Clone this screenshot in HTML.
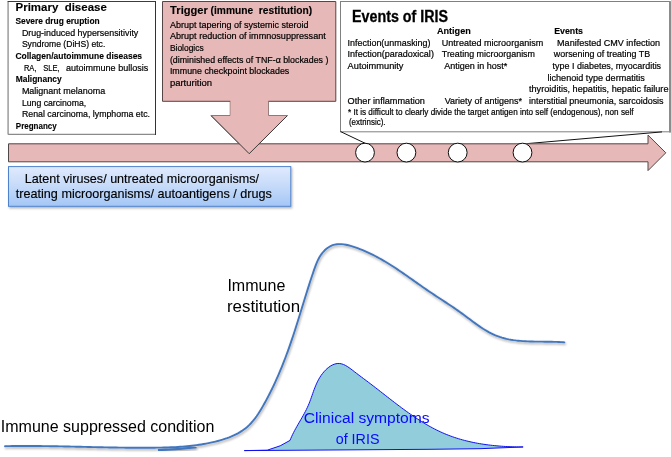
<!DOCTYPE html>
<html><head><meta charset="utf-8">
<style>
html,body{margin:0;padding:0;background:#fff;width:671px;height:457px;overflow:hidden}
svg{display:block;will-change:transform}
text{font-family:"Liberation Sans",sans-serif;fill:#000}
.b{font-weight:bold}
.sm text{stroke:#000;stroke-width:0.2px}
.sm text.b{stroke-width:0.12px}
</style></head><body>
<svg width="671" height="457" viewBox="0 0 671 457">
<defs>
<linearGradient id="bg" x1="0" y1="0" x2="0" y2="1">
<stop offset="0" stop-color="#e0eafd"/>
<stop offset="0.5" stop-color="#c5daf9"/>
<stop offset="1" stop-color="#a4c6f6"/>
</linearGradient>
<filter id="sh" x="-5%" y="-5%" width="110%" height="120%">
<feDropShadow dx="1" dy="1.5" stdDeviation="0.9" flood-color="#000" flood-opacity="0.3"/>
</filter>
<filter id="shc" x="-5%" y="-5%" width="110%" height="110%">
<feDropShadow dx="0.8" dy="1.6" stdDeviation="0.9" flood-color="#000" flood-opacity="0.35"/>
</filter>
</defs>

<!-- Primary disease box -->
<rect x="8" y="1.5" width="147.5" height="133" fill="#fff"/>
<line x1="8.1" y1="1.5" x2="8.1" y2="134.5" stroke="#9c9c9c" stroke-width="1.5"/>
<line x1="8.1" y1="134.4" x2="156" y2="134.4" stroke="#8a8a8a" stroke-width="1.3"/>
<line x1="7.6" y1="1.5" x2="156" y2="1.5" stroke="#3c3c3c" stroke-width="1"/>
<line x1="155.5" y1="1" x2="155.5" y2="135" stroke="#333" stroke-width="1"/>
<g font-size="9.1" class="sm">
<text class="b" x="15.5" y="11.2" font-size="11.6" xml:space="preserve" textLength="91.3" lengthAdjust="spacingAndGlyphs">Primary  disease</text>
<text class="b" x="15.4" y="23.9" textLength="84.3" lengthAdjust="spacingAndGlyphs">Severe drug eruption</text>
<text x="21.9" y="35.8" textLength="116.4" lengthAdjust="spacingAndGlyphs">Drug-induced hypersensitivity</text>
<text x="21.9" y="47.4" textLength="83.4" lengthAdjust="spacingAndGlyphs">Syndrome (DiHS) etc.</text>
<text class="b" x="15.4" y="58.6" textLength="126.7" lengthAdjust="spacingAndGlyphs">Collagen/autoimmune diseases</text>
<text x="23.9" y="70.7" textLength="12.6" lengthAdjust="spacingAndGlyphs">RA,</text><text x="43.3" y="70.7" textLength="16.4" lengthAdjust="spacingAndGlyphs">SLE,</text><text x="65.9" y="70.7" textLength="82.4" lengthAdjust="spacingAndGlyphs">autoimmune bullosis</text>
<text class="b" x="15.8" y="82.4" textLength="45.9" lengthAdjust="spacingAndGlyphs">Malignancy</text>
<text x="21.9" y="93.5" textLength="83.4" lengthAdjust="spacingAndGlyphs">Malignant melanoma</text>
<text x="21.9" y="105.6" textLength="64.3" lengthAdjust="spacingAndGlyphs">Lung carcinoma,</text>
<text x="21.9" y="117.1" textLength="128.1" lengthAdjust="spacingAndGlyphs">Renal carcinoma, lymphoma etc.</text>
<text class="b" x="15.8" y="128.8" textLength="40.9" lengthAdjust="spacingAndGlyphs">Pregnancy</text>
</g>

<!-- Trigger box with down arrow -->
<polygon points="162.5,1.5 335.8,1.5 335.8,101.3 268.3,101.3 268.3,115.7 287.3,115.7 249.2,153.7 211.2,115.7 230.3,115.7 230.3,101.3 162.5,101.3" fill="#e6b8b7" stroke="#574444" stroke-width="1"/>

<!-- Callout box -->
<rect x="340.5" y="1.5" width="329.6" height="130.3" fill="#fff" stroke="#808080" stroke-width="1"/>
<line x1="340.6" y1="131.6" x2="365.6" y2="143.5" stroke="#111" stroke-width="1"/>
<line x1="527.2" y1="143.6" x2="662" y2="131.9" stroke="#111" stroke-width="1"/>
<line x1="670" y1="1.5" x2="670" y2="132.5" stroke="#8c8c8c" stroke-width="2"/>

<!-- Main arrow -->
<polygon points="8.5,143.8 648,143.8 648,135.1 665.8,152.8 648,170.6 648,161.8 8.5,161.8" fill="#e6b8b7" stroke="#504848" stroke-width="1"/>
<!-- redraw down arrow tip over main arrow -->
<polygon points="230.3,101.3 268.3,101.3 268.3,115.7 287.3,115.7 249.2,153.7 211.2,115.7 230.3,115.7" fill="#e6b8b7" stroke="none"/>
<polyline points="287.3,115.7 249.2,153.7 211.2,115.7" fill="none" stroke="#3a3a3a" stroke-width="1"/>

<!-- Circles -->
<circle cx="365" cy="152.6" r="9.4" fill="#fff" stroke="#111" stroke-width="1"/>
<circle cx="406.4" cy="152.6" r="9.4" fill="#fff" stroke="#111" stroke-width="1"/>
<circle cx="457.7" cy="152.6" r="9.4" fill="#fff" stroke="#111" stroke-width="1"/>
<circle cx="522.5" cy="152.6" r="9.4" fill="#fff" stroke="#111" stroke-width="1"/>

<!-- Trigger text -->
<g font-size="9.1" class="sm">
<text class="b" x="170.1" y="14.2" font-size="11.8" textLength="37.8" lengthAdjust="spacingAndGlyphs">Trigger</text>
<text class="b" x="210.6" y="14.3" font-size="10.4" textLength="101.6" lengthAdjust="spacingAndGlyphs" xml:space="preserve">(immune  restitution)</text>
<text x="169.9" y="27.5" textLength="138.7" lengthAdjust="spacingAndGlyphs">Abrupt tapering of systemic steroid</text>
<text x="169.9" y="38.9" textLength="155.9" lengthAdjust="spacingAndGlyphs">Abrupt reduction of immnosuppressant</text>
<text x="169.9" y="50.9" textLength="33.8" lengthAdjust="spacingAndGlyphs">Biologics</text>
<text x="169.9" y="62.8" textLength="158.5" lengthAdjust="spacingAndGlyphs">(diminished effects of TNF-α blockades )</text>
<text x="169.9" y="74.3" textLength="119.4" lengthAdjust="spacingAndGlyphs">Immune checkpoint blockades</text>
<text x="169.9" y="85.5" textLength="42.2" lengthAdjust="spacingAndGlyphs">parturition</text>
</g>

<!-- Events text -->
<g font-size="9.1" class="sm">
<text class="b" x="352" y="21.6" font-size="15.8" style="stroke-width:0.3px" textLength="96.1" lengthAdjust="spacingAndGlyphs">Events of IRIS</text>
<text class="b" x="436.9" y="33.7" textLength="33.9" lengthAdjust="spacingAndGlyphs">Antigen</text>
<text class="b" x="554.2" y="33.5" textLength="28.8" lengthAdjust="spacingAndGlyphs">Events</text>
<text x="347.6" y="45.7" textLength="82.9" lengthAdjust="spacingAndGlyphs">Infection(unmasking)</text>
<text x="441.8" y="45.8" textLength="101.5" lengthAdjust="spacingAndGlyphs">Untreated microorganism</text>
<text x="557.1" y="45.5" textLength="102.9" lengthAdjust="spacingAndGlyphs">Manifested CMV infection</text>
<text x="347.6" y="57.2" textLength="86.3" lengthAdjust="spacingAndGlyphs">Infection(paradoxical)</text>
<text x="441.8" y="57.3" textLength="93.2" lengthAdjust="spacingAndGlyphs">Treating microorganism</text>
<text x="553.8" y="57.1" textLength="96.3" lengthAdjust="spacingAndGlyphs">worsening of treating TB</text>
<text x="347.6" y="68.9" textLength="55.9" lengthAdjust="spacingAndGlyphs">Autoimmunity</text>
<text x="444.2" y="69.1" textLength="63.2" lengthAdjust="spacingAndGlyphs">Antigen in host*</text>
<text x="552.6" y="68.8" textLength="108.5" lengthAdjust="spacingAndGlyphs">type I diabetes, myocarditis</text>
<text x="547.5" y="80.6" textLength="97.4" lengthAdjust="spacingAndGlyphs">lichenoid type dermatitis</text>
<text x="529" y="92" textLength="139.5" lengthAdjust="spacingAndGlyphs">thyroiditis, hepatitis, hepatic failure</text>
<text x="347.6" y="104.2" textLength="77.3" lengthAdjust="spacingAndGlyphs">Other inflammation</text>
<text x="444.8" y="104.2" textLength="77.2" lengthAdjust="spacingAndGlyphs">Variety of antigens*</text>
<text x="529" y="104.2" textLength="134.6" lengthAdjust="spacingAndGlyphs">interstitial pneumonia, sarcoidosis</text>
<text x="348" y="115" font-size="8.6" textLength="285.6" lengthAdjust="spacingAndGlyphs">* It is difficult to clearly divide the target antigen into self (endogenous), non self</text>
<text x="348.9" y="125.2" font-size="8.6" textLength="36.7" lengthAdjust="spacingAndGlyphs">(extrinsic).</text>
</g>

<!-- Blue box -->
<rect x="8.5" y="166.6" width="282.3" height="39.7" fill="url(#bg)" stroke="#4f82cc" stroke-width="1" filter="url(#sh)"/>
<g font-size="13" style="stroke:#000;stroke-width:0.15px">
<text x="24.8" y="182.9" textLength="234.3" lengthAdjust="spacingAndGlyphs">Latent viruses/ untreated microorganisms/</text>
<text x="15.8" y="198.1" textLength="256" lengthAdjust="spacingAndGlyphs">treating microorganisms/ autoantigens / drugs</text>
</g>

<!-- Curves -->
<path d="M244.3,450.6 L267.2,450.2 L280.2,445.8 L290.00,440.42 L290.83,438.37 L291.73,436.36 L292.66,434.37 L293.64,432.41 L294.65,430.48 L295.70,428.56 L296.76,426.66 L297.84,424.77 L298.93,422.88 L300.02,421.00 L301.11,419.13 L302.19,417.25 L303.26,415.36 L304.30,413.46 L305.32,411.55 L306.30,409.63 L307.24,407.68 L308.14,405.71 L308.99,403.71 L309.78,401.68 L310.55,399.64 L311.29,397.57 L312.01,395.50 L312.74,393.43 L313.48,391.35 L314.23,389.28 L315.03,387.22 L315.87,385.18 L316.76,383.16 L317.72,381.16 L318.77,379.20 L319.90,377.27 L321.14,375.39 L322.49,373.55 L323.93,371.80 L325.46,370.15 L327.07,368.62 L328.75,367.24 L330.49,366.04 L332.28,365.04 L334.11,364.26 L335.96,363.72 L337.84,363.46 L339.72,363.50 L341.61,363.85 L343.49,364.49 L345.36,365.37 L347.22,366.44 L349.08,367.67 L350.92,369.00 L352.75,370.39 L354.56,371.80 L356.35,373.18 L358.13,374.53 L359.89,375.86 L361.63,377.17 L363.37,378.46 L365.10,379.75 L366.82,381.04 L368.54,382.33 L370.26,383.64 L371.98,384.95 L373.70,386.27 L375.42,387.60 L377.14,388.93 L378.86,390.27 L380.58,391.61 L382.31,392.96 L384.03,394.31 L385.76,395.66 L387.49,397.01 L389.23,398.36 L390.96,399.71 L392.70,401.06 L394.45,402.40 L396.20,403.74 L397.95,405.07 L399.71,406.39 L401.47,407.71 L403.24,409.02 L405.01,410.32 L406.79,411.60 L408.58,412.88 L410.38,414.14 L412.18,415.39 L413.99,416.63 L415.81,417.84 L417.63,419.05 L419.47,420.23 L421.31,421.40 L423.16,422.54 L425.03,423.67 L426.90,424.77 L428.78,425.85 L430.68,426.90 L432.58,427.93 L434.50,428.94 L436.42,429.92 L438.36,430.87 L440.32,431.79 L442.28,432.68 L444.26,433.54 L446.25,434.37 L448.25,435.16 L450.27,435.93 L452.30,436.66 L454.34,437.36 L456.40,438.04 L458.46,438.68 L460.53,439.30 L462.62,439.88 L464.71,440.44 L466.81,440.97 L468.93,441.48 L471.04,441.96 L473.17,442.41 L475.31,442.84 L477.45,443.24 L479.59,443.62 L481.75,443.98 L483.91,444.31 L486.07,444.62 L488.24,444.91 L490.41,445.17 L492.58,445.42 L494.76,445.64 L496.94,445.85 L499.12,446.04 L501.31,446.20 L503.49,446.35 L505.68,446.49 L507.87,446.60 L510.05,446.70 L512.24,446.78 L514.42,446.85 L516.60,446.90 L518.78,446.93 L520.96,446.96 L523.14,446.96 L480,448.7 L430,449.3 Z" fill="#92cddc" stroke="#1010f0" stroke-width="1"/>

<path d="M5.02,446.19 L7.38,446.15 L9.73,446.11 L12.09,446.07 L14.45,446.04 L16.82,446.02 L19.18,446.00 L21.54,445.99 L23.91,445.99 L26.27,445.98 L28.64,445.99 L31.01,445.99 L33.37,446.00 L35.74,446.02 L38.11,446.04 L40.48,446.06 L42.85,446.09 L45.22,446.11 L47.60,446.15 L49.97,446.18 L52.34,446.22 L54.72,446.26 L57.09,446.30 L59.46,446.35 L61.84,446.39 L64.21,446.44 L66.59,446.49 L68.96,446.54 L71.34,446.59 L73.72,446.65 L76.09,446.70 L78.47,446.76 L80.84,446.81 L83.22,446.87 L85.60,446.92 L87.97,446.98 L90.35,447.03 L92.72,447.09 L95.10,447.14 L97.48,447.20 L99.85,447.25 L102.23,447.30 L104.60,447.35 L106.98,447.39 L109.35,447.44 L111.72,447.48 L114.10,447.52 L116.47,447.56 L118.84,447.60 L121.21,447.63 L123.58,447.66 L125.95,447.69 L128.32,447.72 L130.69,447.74 L133.06,447.75 L135.43,447.77 L137.80,447.77 L140.16,447.78 L142.53,447.78 L144.89,447.77 L147.25,447.76 L149.62,447.75 L151.98,447.73 L154.34,447.70 L156.70,447.67 L159.06,447.64 L161.41,447.59 L163.77,447.54 L166.12,447.47 L168.48,447.40 L170.83,447.31 L173.18,447.20 L175.53,447.09 L177.88,446.95 L180.23,446.80 L182.58,446.63 L184.93,446.44 L187.28,446.23 L189.63,446.00 L191.97,445.74 L194.32,445.45 L196.67,445.15 L199.01,444.81 L201.36,444.44 L203.70,444.05 L206.04,443.62 L208.39,443.17 L210.73,442.67 L213.07,442.15 L215.42,441.59 L217.76,440.99 L220.09,440.34 L222.41,439.66 L224.72,438.92 L227.00,438.14 L229.26,437.30 L231.48,436.40 L233.66,435.44 L235.81,434.42 L237.90,433.32 L239.93,432.16 L241.91,430.91 L243.82,429.59 L245.67,428.19 L247.44,426.70 L249.13,425.13 L250.75,423.48 L252.30,421.75 L253.79,419.96 L255.23,418.11 L256.61,416.21 L257.95,414.26 L259.24,412.27 L260.50,410.25 L261.73,408.21 L262.93,406.14 L264.10,404.06 L265.26,401.98 L266.40,399.88 L267.53,397.77 L268.63,395.66 L269.72,393.54 L270.79,391.41 L271.84,389.27 L272.88,387.13 L273.90,384.97 L274.90,382.82 L275.89,380.65 L276.87,378.48 L277.83,376.31 L278.77,374.12 L279.70,371.94 L280.62,369.74 L281.52,367.55 L282.41,365.35 L283.29,363.14 L284.15,360.93 L285.01,358.72 L285.85,356.50 L286.67,354.28 L287.49,352.06 L288.30,349.83 L289.09,347.60 L289.87,345.37 L290.65,343.14 L291.41,340.91 L292.17,338.68 L292.91,336.44 L293.65,334.20 L294.38,331.96 L295.10,329.72 L295.82,327.48 L296.53,325.24 L297.24,323.00 L297.94,320.75 L298.64,318.50 L299.34,316.25 L300.03,314.00 L300.72,311.75 L301.42,309.50 L302.11,307.24 L302.80,304.99 L303.49,302.73 L304.19,300.47 L304.89,298.21 L305.59,295.94 L306.29,293.68 L307.00,291.41 L307.72,289.14 L308.44,286.87 L309.17,284.59 L309.91,282.32 L310.65,280.04 L311.40,277.76 L312.16,275.48 L312.93,273.20 L313.72,270.91 L314.51,268.63 L315.33,266.35 L316.19,264.09 L317.12,261.86 L318.13,259.69 L319.24,257.57 L320.47,255.54 L321.83,253.59 L323.35,251.76 L324.99,250.06 L326.75,248.53 L328.62,247.20 L330.58,246.08 L332.62,245.21 L334.73,244.60 L336.90,244.24 L339.12,244.09 L341.39,244.14 L343.68,244.37 L346.00,244.75 L348.33,245.26 L350.67,245.88 L353.00,246.59 L355.32,247.36 L357.61,248.18 L359.88,249.04 L362.12,249.93 L364.34,250.86 L366.54,251.83 L368.72,252.82 L370.87,253.85 L373.01,254.90 L375.13,255.99 L377.23,257.10 L379.31,258.23 L381.38,259.40 L383.43,260.58 L385.46,261.78 L387.49,263.01 L389.50,264.25 L391.50,265.51 L393.49,266.79 L395.46,268.08 L397.43,269.39 L399.39,270.71 L401.35,272.03 L403.30,273.37 L405.24,274.71 L407.18,276.06 L409.11,277.42 L411.04,278.78 L412.97,280.14 L414.90,281.50 L416.83,282.87 L418.75,284.23 L420.69,285.58 L422.62,286.93 L424.55,288.28 L426.50,289.62 L428.44,290.95 L430.39,292.27 L432.35,293.58 L434.31,294.88 L436.28,296.18 L438.25,297.47 L440.23,298.76 L442.20,300.05 L444.18,301.34 L446.15,302.64 L448.13,303.94 L450.10,305.25 L452.06,306.57 L454.03,307.90 L455.98,309.25 L457.93,310.61 L459.88,311.99 L461.81,313.39 L463.74,314.81 L465.66,316.24 L467.58,317.68 L469.50,319.11 L471.42,320.55 L473.35,321.97 L475.28,323.38 L477.22,324.76 L479.16,326.12 L481.13,327.45 L483.10,328.74 L485.10,329.98 L487.11,331.17 L489.15,332.31 L491.21,333.38 L493.29,334.39 L495.41,335.32 L497.56,336.18 L499.73,336.96 L501.94,337.65 L504.18,338.28 L506.44,338.83 L508.73,339.32 L511.04,339.74 L513.37,340.11 L515.72,340.43 L518.08,340.69 L520.46,340.92 L522.85,341.10 L525.25,341.25 L527.66,341.37 L530.07,341.46 L532.48,341.53 L534.90,341.58 L537.32,341.61 L539.73,341.64 L542.14,341.66 L544.54,341.68 L546.93,341.70 L549.31,341.73 L551.68,341.77 L554.03,341.83 L556.36,341.90 L558.68,342.00 L560.97,342.13 L563.24,342.30 L564.37,342.39" fill="none" stroke="#4376bd" stroke-width="1.9" stroke-linecap="round" filter="url(#shc)"/>

<path d="M158,450.1 C170,449.7 185,448.5 196.5,447.2" fill="none" stroke="#4376bd" stroke-width="2.1" filter="url(#shc)"/>
<g font-size="16">
<text x="0.8" y="432.3" textLength="213.6" lengthAdjust="spacingAndGlyphs">Immune suppressed condition</text>
<text x="227.4" y="291.3" textLength="57.9" lengthAdjust="spacingAndGlyphs">Immune</text>
<text x="227" y="311.5" textLength="73.1" lengthAdjust="spacingAndGlyphs">restitution</text>
</g>
<g font-size="15.2" style="fill:#0808ff">
<text x="303.8" y="422.8" textLength="125.8" lengthAdjust="spacingAndGlyphs" style="fill:#0808ff">Clinical symptoms</text>
<text x="335.7" y="444" textLength="43.8" lengthAdjust="spacingAndGlyphs" style="fill:#0808ff">of IRIS</text>
</g>
</svg>
</body></html>
